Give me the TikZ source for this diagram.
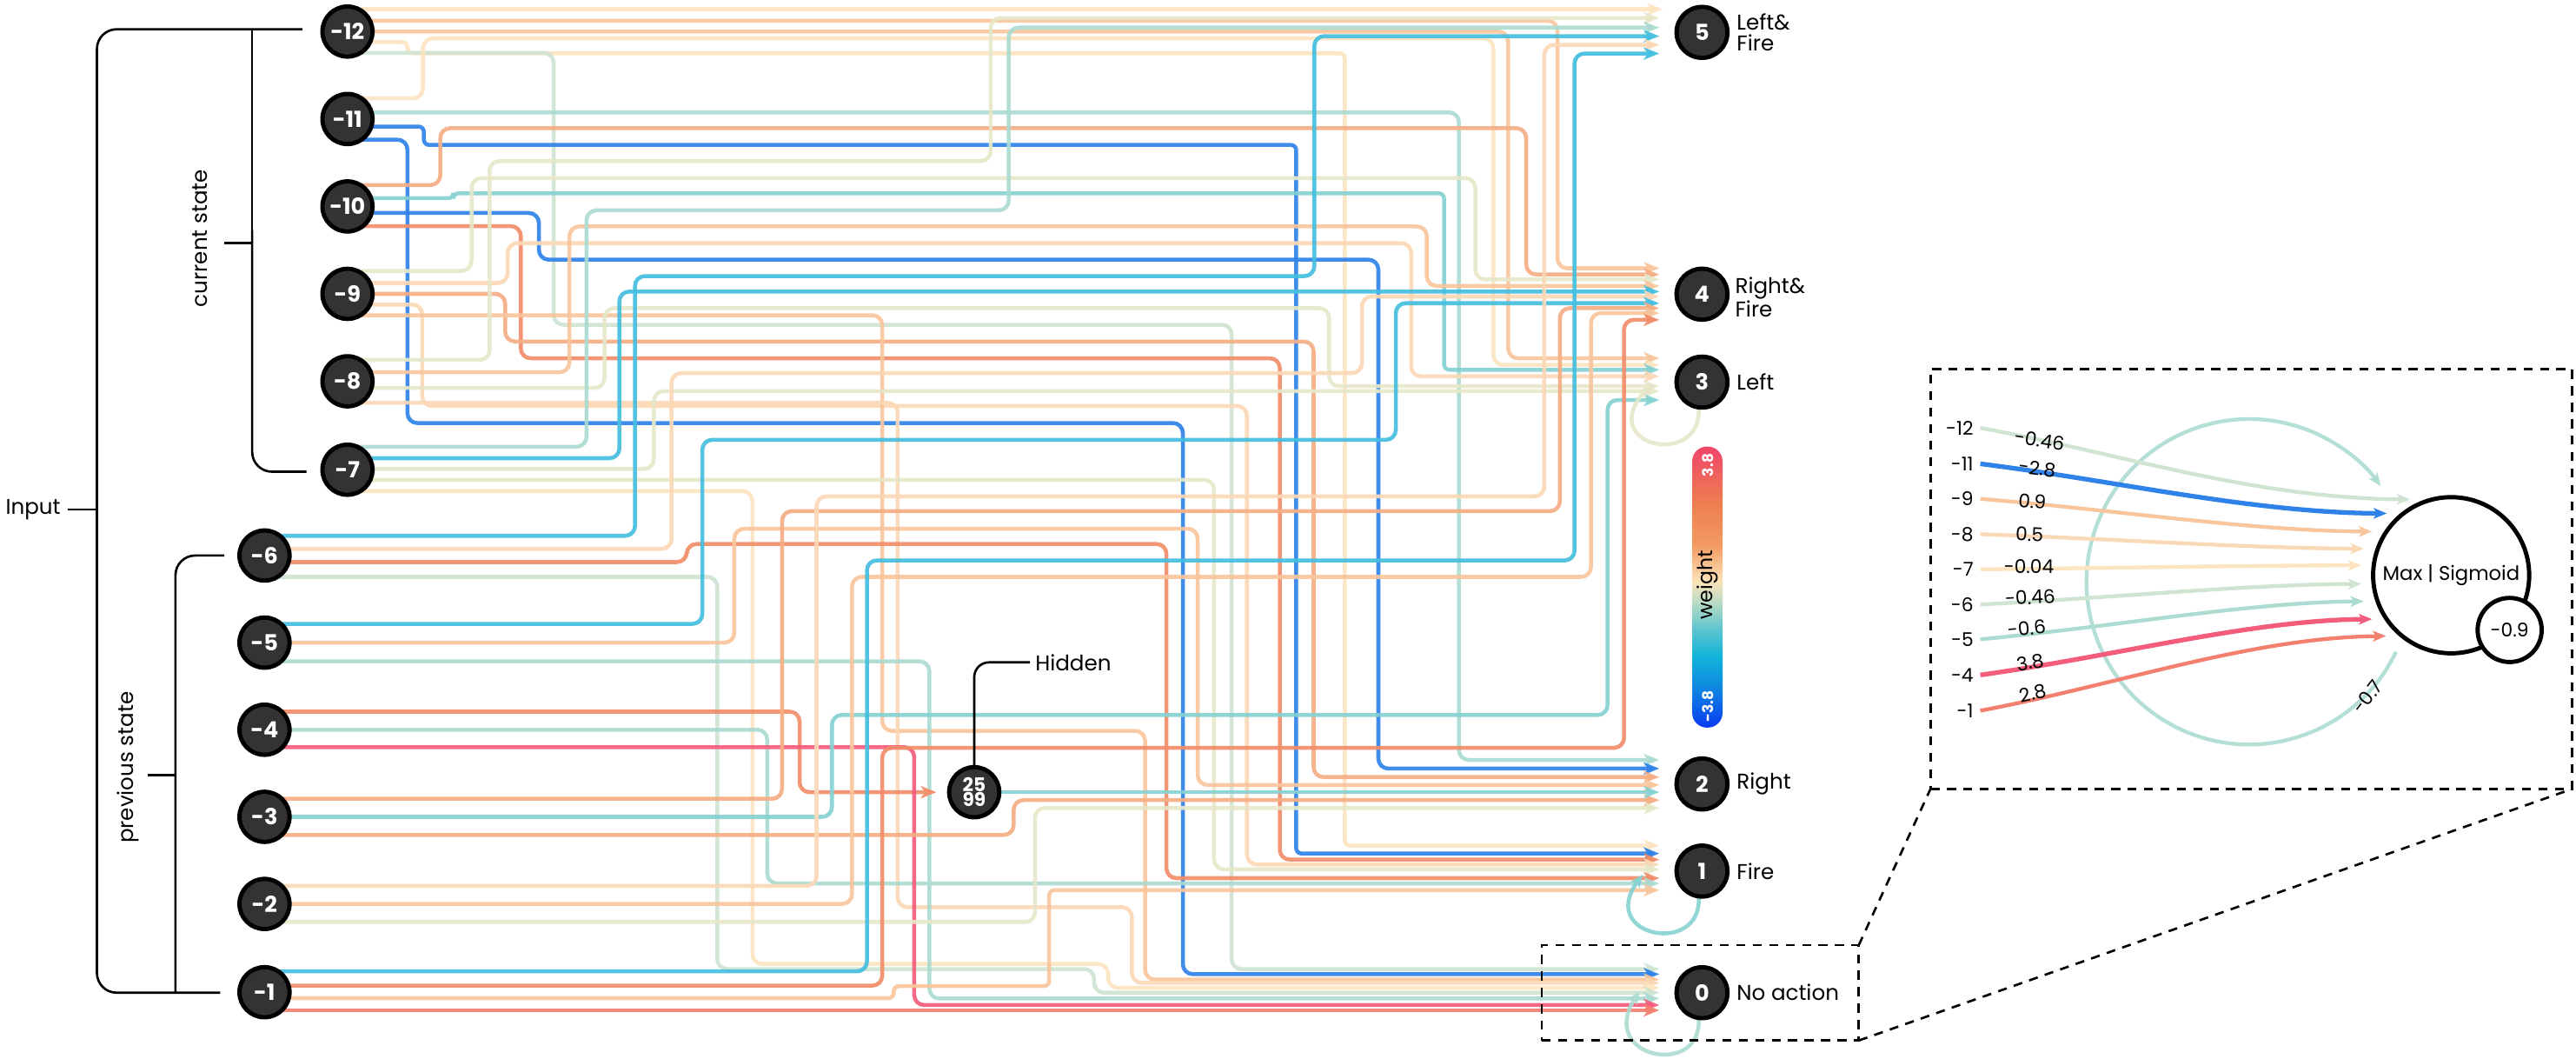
\documentclass[tikz,border=0pt]{standalone}
\usepackage{fontspec}
\setmainfont{Poppins}
\usetikzlibrary{arrows.meta,calc,backgrounds}

\definecolor{nfill}{HTML}{333333}
\definecolor{cCream}{HTML}{FCE4C0}
\definecolor{cCreamS}{HTML}{E6E7C9}
\definecolor{cSage}{HTML}{CFE4D2}
\definecolor{cTealS}{HTML}{ABDBD1}
\definecolor{cTeal}{HTML}{86D1D2}
\definecolor{cCyan}{HTML}{45BEE0}
\definecolor{cBlue}{HTML}{2F82E8}
\definecolor{cPeachL}{HTML}{FBD8B5}
\definecolor{cPeach}{HTML}{F8C59C}
\definecolor{cPeachD}{HTML}{F5AE84}
\definecolor{cSalmon}{HTML}{F18D69}
\definecolor{cSalmonR}{HTML}{F3806E}
\definecolor{cPink}{HTML}{F45C7C}
\definecolor{wbA}{HTML}{0A3AF2}
\definecolor{wbB}{HTML}{0F8BE0}
\definecolor{wbC}{HTML}{10B3DA}
\definecolor{wbD}{HTML}{5CC5CF}
\definecolor{wbE}{HTML}{BDDCC5}
\definecolor{wbF}{HTML}{FCE3B8}
\definecolor{wbG}{HTML}{F39A62}
\definecolor{wbH}{HTML}{EE7E50}
\definecolor{wbI}{HTML}{F0456A}

\pgfdeclareverticalshading{wbarshade}{100bp}{color(0bp)=(wbA); color(25bp)=(wbA); color(32.5bp)=(wbB); color(37.5bp)=(wbC); color(42.5bp)=(wbD); color(47.5bp)=(wbE); color(51bp)=(wbF); color(57.5bp)=(wbG); color(65bp)=(wbH); color(75bp)=(wbI); color(100bp)=(wbI)}

\begin{document}
\begin{tikzpicture}[x=1pt,y=-1pt,
  wire/.style={line width=2.4pt, rounded corners=6pt, draw opacity=0.92, -{Stealth[length=9.5pt,width=7.5pt,inset=2.5pt]}},
  jwire/.style={wire, rounded corners=3.2pt},
  loopw/.style={line width=2.4pt, draw opacity=0.9, -{Stealth[length=8pt,width=6.5pt,inset=2pt]}},
  inode/.style={circle, minimum size=30.5pt, inner sep=0pt, outer sep=0pt, fill=nfill, draw=black, line width=2.6pt, text=white, font=\bfseries\fontsize{13.5}{14}\selectfont},
  onode/.style={inode, minimum size=31pt},
  olab/.style={anchor=west, align=left, inner sep=0pt, font=\fontsize{13}{12.5}\selectfont},
  brk/.style={line width=1.4pt, rounded corners=12pt},
  lbl/.style={inner sep=0pt, font=\fontsize{13}{15}\selectfont},
  dbox/.style={draw, dash pattern=on 5.5pt off 4.5pt, line width=1.4pt, inner sep=0pt, outer sep=0pt},
  dline/.style={dash pattern=on 5.5pt off 4.5pt, line width=1.4pt},
  ilab/.style={anchor=east, inner sep=0pt, font=\fontsize{11.5}{12}\selectfont},
  wlab/.style={inner sep=0pt, font=\fontsize{11.5}{12}\selectfont},
  iw/.style={line width=2.3pt, -{Stealth[length=8pt,width=6.5pt,inset=2pt]}}
]
\useasboundingbox (0,0) rectangle (1568,644);

% ---------- input nodes ----------
\node[inode] (i12) at (211.5,19.2) {-12};
\node[inode] (i11) at (211.5,72.4) {-11};
\node[inode] (i10) at (211.5,125.6) {-10};
\node[inode] (i9) at (211.5,178.8) {-9};
\node[inode] (i8) at (211.5,232) {-8};
\node[inode] (i7) at (211.5,285.8) {-7};
\node[inode] (i6) at (161,338) {-6};
\node[inode] (i5) at (161,391) {-5};
\node[inode] (i4) at (161,444) {-4};
\node[inode] (i3) at (161,497) {-3};
\node[inode] (i2) at (161,550) {-2};
\node[inode] (i1) at (161,603.7) {-1};
% ---------- hidden ----------
\node[inode, align=center, font=\bfseries\fontsize{11.5}{8.8}\selectfont] (h) at (593,482) {25\\99};
% ---------- output nodes ----------
\node[onode] (o5) at (1036,19.7) {5};
\node[onode] (o4) at (1036,179) {4};
\node[onode] (o3) at (1036,232.5) {3};
\node[onode] (o2) at (1036,477) {2};
\node[onode] (o1) at (1036,530) {1};
\node[onode] (o0) at (1036,604) {0};

\node[olab] (t5) at (1057,19.7) {Left\&\\Fire};
\node[olab] (t4) at (1056,180.6) {Right\&\\Fire};
\node[olab] (t3) at (1057,232.5) {Left};
\node[olab] (t2) at (1057,477) {Right};
\node[olab] (t1) at (1057,530) {Fire};
\node[olab] (t0) at (1057,604) {No action};

% ---------- wires ----------
\begin{pgfonlayer}{background}
\draw[wire,draw=cCream] ($(i12)+(0,-13.6)$) -- ($(o5)+(-24,-14.1)$);
\draw[wire,draw=cPeach] ($(i12)+(0,-6.6)$) -| (948,163.2) -- ($(o4)+(-26,-15.8)$);
\draw[wire,draw=cPeach] ($(i12)+(0,0)$) -| (918,218) -- ($(o3)+(-26,-14.5)$);
\draw[jwire,draw=cCream] ($(i12)+(0,6.4)$) -| (248,32.4) -| (818.6,514.5) -- ($(o1)+(-26,-15.5)$);
\draw[wire,draw=cSage] ($(i12)+(0,13)$) -| (337,197.6) -| (749.7,589.6) -- ($(o0)+(-26,-14.4)$);

\draw[wire,draw=cCream] ($(i11)+(0,-12.6)$) -| (257.5,23.3) -| (909,222) -- ($(o3)+(-26,-10.5)$);
\draw[wire,draw=cTealS] ($(i11)+(0,-4)$) -| (888,462.4) -- ($(o2)+(-26,-14.6)$);
\draw[jwire,draw=cBlue] ($(i11)+(0,4.6)$) -| (258,88.2) -| (789,519.3) -- ($(o1)+(-26,-10.7)$);
\draw[wire,draw=cBlue] ($(i11)+(0,12.6)$) -| (248,257.4) -| (720,592.7) -- ($(o0)+(-26,-11.3)$);

\draw[wire,draw=cPeachD] ($(i10)+(0,-13)$) -| (268,78) -| (929,167) -- ($(o4)+(-26,-12)$);
\draw[jwire,draw=cTeal] ($(i10)+(0,-5)$) -| (276,117.6) -| (879,225) -- ($(o3)+(-26,-7.5)$);
\draw[wire,draw=cBlue] ($(i10)+(0,4)$) -| (328,158) -| (839,467.6) -- ($(o2)+(-26,-9.4)$);
\draw[wire,draw=cSalmon] ($(i10)+(0,12)$) -| (317,218) -| (779,523) -- ($(o1)+(-26,-7)$);

\draw[wire,draw=cCreamS] ($(i9)+(0,-14)$) -| (287,108.4) -| (898,170) -- ($(o4)+(-26,-9)$);
\draw[wire,draw=cPeachL] ($(i9)+(0,-6.6)$) -| (309,148) -| (859,229) -- ($(o3)+(-26,-3.5)$);
\draw[wire,draw=cPeachD] ($(i9)+(0,0)$) -| (307.5,207.8) -| (799.6,472.8) -- ($(o2)+(-26,-4.2)$);
\draw[wire,draw=cPeachL] ($(i9)+(0,6.5)$) -| (257,247) -| (759,526) -- ($(o1)+(-26,-4)$);
\draw[wire,draw=cPeach] ($(i9)+(0,13)$) -| (537,444.7) -| (697,596) -- ($(o0)+(-26,-8)$);

\draw[wire,draw=cCreamS] ($(i8)+(0,-13)$) -| (298,98) -| (603,11) -- ($(o5)+(-26,-8.7)$);
\draw[wire,draw=cPeach] ($(i8)+(0,-5.5)$) -| (346.6,137.8) -| (868.5,174) -- ($(o4)+(-26,-5)$);
\draw[wire,draw=cCreamS] ($(i8)+(0,4)$) -| (368,187.5) -| (809,235) -- ($(o3)+(-26,2.5)$);
\draw[wire,draw=cPeachL] ($(i8)+(0,13)$) -| (546.4,552) -| (689,598) -- ($(o0)+(-26,-6)$);

\draw[wire,draw=cTealS] ($(i7)+(0,-14)$) -| (357,128) -| (614,16.8) -- ($(o5)+(-26,-2.9)$);
\draw[wire,draw=cCyan] ($(i7)+(0,-7)$) -| (377,177.4) -- ($(o4)+(-26,-1.6)$);
\draw[wire,draw=cCreamS] ($(i7)+(0,-0.5)$) -| (398,238) -- ($(o3)+(-26,5.5)$);
\draw[wire,draw=cCreamS] ($(i7)+(0,6.2)$) -| (739,529) -- ($(o1)+(-26,-1)$);
\draw[wire,draw=cCream] ($(i7)+(0,13)$) -| (458,586.5) -| (674.5,601) -- ($(o0)+(-26,-3)$);

\draw[wire,draw=cCyan] ($(i6)+(0,-12)$) -| (386.5,168) -| (800,22) -- ($(o5)+(-26,2.3)$);
\draw[wire,draw=cPeachL] ($(i6)+(0,-4)$) -| (408.7,227) -| (829,180.4) -- ($(o4)+(-26,1.4)$);
\draw[wire,draw=cSalmon] ($(i6)+(0,4)$) -| (418,331) -| (710,534.3) -- ($(o1)+(-26,4.3)$);
\draw[wire,draw=cSage] ($(i6)+(0,13)$) -| (436.6,589.6) -| (666,604) -- ($(o0)+(-26,0)$);

\draw[wire,draw=cCyan] ($(i5)+(0,-11.4)$) -| (427.5,267.6) -| (849.6,184.5) -- ($(o4)+(-26,5.5)$);
\draw[wire,draw=cPeach] ($(i5)+(0,0)$) -| (447,321.7) -| (729,477.6) -- ($(o2)+(-26,0.6)$);
\draw[wire,draw=cTealS] ($(i5)+(0,11.4)$) -| (565.7,607.5) -- ($(o0)+(-26,3.5)$);

\draw[wire,draw=cSalmon] ($(i4)+(0,-11)$) -| (486.7,482) -- ($(h)+(-23,0)$);
\draw[wire,draw=cTealS] ($(i4)+(0,0)$) -| (467,537.5) -- ($(o1)+(-26,7.5)$);
\draw[wire,draw=cPink] ($(i4)+(0,10.6)$) -| (556.5,611.5) -- ($(o0)+(-26,7.5)$);

\draw[wire,draw=cPeachD] ($(i3)+(0,-11)$) -| (476,311) -| (949.5,187.5) -- ($(o4)+(-26,8.5)$);
\draw[wire,draw=cTeal] ($(i3)+(0,0)$) -| (506.4,435) -| (978.5,243.4) -- ($(o3)+(-26,10.9)$);
\draw[wire,draw=cPeachD] ($(i3)+(0,11)$) -| (617,486.8) -- ($(o2)+(-26,9.8)$);

\draw[wire,draw=cPeachL] ($(i2)+(0,-11)$) -| (497,302) -| (940,27.3) -- ($(o5)+(-26,7.6)$);
\draw[wire,draw=cPeach] ($(i2)+(0,0)$) -| (518.6,351) -| (968.4,190.5) -- ($(o4)+(-26,11.5)$);
\draw[wire,draw=cCreamS] ($(i2)+(0,11)$) -| (630,491.6) -- ($(o2)+(-26,14.6)$);

\draw[wire,draw=cCyan] ($(i1)+(0,-12.7)$) -| (527.7,341) -| (958.4,32.6) -- ($(o5)+(-26,12.9)$);
\draw[wire,draw=cSalmon] ($(i1)+(0,-4)$) -| (537,455) -| (988.5,194.6) -- ($(o4)+(-26,15.6)$);
\draw[jwire,draw=cPeach] ($(i1)+(0,3.6)$) -| (544,600) -| (638.6,541.6) -- ($(o1)+(-26,11.6)$);
\draw[wire,draw=cSalmonR] ($(i1)+(0,11)$) -- ($(o0)+(-26,10.7)$);

\draw[wire,draw=cTeal] (h) -- ($(o2)+(-26,5)$);

% self loops
\draw[loopw,draw=cCreamS] ($(o3)+(-2,16)$) .. controls ($(o3)+(0,52)$) and ($(o3)+(-64,40)$) .. ($(o3)+(-32,2)$);
\draw[loopw,draw=cTeal] ($(o1)+(-2,16)$) .. controls ($(o1)+(0,52)$) and ($(o1)+(-64,40)$) .. ($(o1)+(-36,2)$);
\draw[loopw,draw=cTealS] ($(o0)+(-2,16)$) .. controls ($(o0)+(0,52)$) and ($(o0)+(-64,40)$) .. ($(o0)+(-38,-1)$);
\end{pgfonlayer}

% ---------- brackets ----------
\draw[brk] (184,17.8) -- (59,17.8) -- (59,604) -- (134,604);
\draw[line width=1.4pt] (153.5,17.8) -- (153.5,150);
\draw[brk] (153.5,140) -- (153.5,287) -- (186.6,287);
\draw[line width=1.4pt] (136.5,148) -- (153.5,148);
\draw[brk] (136.5,338) -- (106.8,338) -- (106.8,604);
\draw[line width=1.4pt] (89.8,471.5) -- (106.8,471.5);
\node[lbl, anchor=east] (inp) at (37,310) {Input};
\draw[line width=1.4pt] (inp.east) ++(4,0) -- (59,310);
\node[lbl, rotate=90] (cs) at (121.6,145) {current state};
\node[lbl, rotate=90] (ps) at (78,467) {previous state};

% hidden label
\node[lbl, anchor=west] (hl) at (630,403) {Hidden};
\draw[line width=1.4pt, rounded corners=9pt] (h.north) |- ($(hl.west)+(-3,0)$);

% ---------- weight bar ----------
\node[rectangle, rounded corners=9pt, minimum width=18.5pt, minimum height=171pt, inner sep=0pt, shading=wbarshade] (wb) at (1039.25,357.2) {};
\node[rotate=90, text=white, inner sep=0pt, font=\bfseries\fontsize{9}{9}\selectfont] (wmax) at (1039.5,283) {3.8};
\node[rotate=90, text=white, inner sep=0pt, font=\bfseries\fontsize{9}{9}\selectfont] (wmin) at (1039.5,430) {-3.8};
\node[rotate=90, inner sep=0pt, font=\fontsize{12.5}{13}\selectfont] (wtx) at (1039.5,356) {weight};

% ---------- zoom boxes ----------
\node[dbox, minimum width=193pt, minimum height=58pt] (zb) at (1034.9,604.1) {};
\node[dbox, minimum width=390.5pt, minimum height=255.5pt] (ib) at (1370.3,352.3) {};
\draw[dline] (zb.north east) -- (ib.south west);
\draw[dline] (zb.south east) -- (ib.south east);

% ---------- inset ----------
\node[circle, draw, line width=2.6pt, minimum size=95pt, inner sep=0pt, fill=white, font=\fontsize{12}{12}\selectfont] (m) at (1492,350) {Max | Sigmoid};
\node[circle, draw, line width=2.6pt, minimum size=39pt, inner sep=0pt, fill=white, font=\fontsize{11.5}{12}\selectfont] (sg) at (1527.6,383.3) {-0.9};

\node[ilab] (l12) at (1201.4,260.4) {-12};
\node[ilab] (l11) at (1201.4,282.2) {-11};
\node[ilab] (l9) at (1201.4,303.5) {-9};
\node[ilab] (l8) at (1201.4,325) {-8};
\node[ilab] (l7) at (1201.4,346.4) {-7};
\node[ilab] (l6) at (1201.4,367.8) {-6};
\node[ilab] (l5) at (1201.4,389) {-5};
\node[ilab] (l4) at (1201.4,410.7) {-4};
\node[ilab] (l1) at (1201.4,432.4) {-1};

\begin{pgfonlayer}{background}
\draw[iw,draw=cTealS,draw opacity=0.9] ($(m)+(-33.6,46.6)$) arc[start angle=25.5, end angle=324, radius=99];
\end{pgfonlayer}
\draw[iw,draw=cSage] ($(l12.east)+(4,0)$) .. controls (1290,275.6) and (1370,303) .. ($(m)+(-25,-46.1)$);
\draw[iw,draw=cBlue,line width=2.8pt] ($(l11.east)+(4,0)$) .. controls (1290,292.8) and (1370,311.8) .. ($(m)+(-39.2,-37.6)$);
\draw[iw,draw=cPeach] ($(l9.east)+(4,0)$) .. controls (1290,310.5) and (1370,323) .. ($(m)+(-48.2,-26.6)$);
\draw[iw,draw=cPeachL] ($(l8.east)+(4,0)$) .. controls (1290,328.1) and (1370,333.6) .. ($(m)+(-53.3,-16.2)$);
\draw[iw,draw=cCream] ($(l7.east)+(4,0)$) .. controls (1290,345.6) and (1370,344) .. ($(m)+(-54.6,-6)$);
\draw[iw,draw=cSage] ($(l6.east)+(4,0)$) .. controls (1290,363.4) and (1370,355.5) .. ($(m)+(-54.6,5.3)$);
\draw[iw,draw=cTealS] ($(l5.east)+(4,0)$) .. controls (1290,380.9) and (1370,366.4) .. ($(m)+(-53.3,15.9)$);
\draw[iw,draw=cPink,line width=2.8pt] ($(l4.east)+(4,0)$) .. controls (1290,398.8) and (1370,377.4) .. ($(m)+(-48.2,26.7)$);
\draw[iw,draw=cSalmonR] ($(l1.east)+(4,0)$) .. controls (1290,416.5) and (1370,387.9) .. ($(m)+(-39.7,37)$);

\node[wlab, rotate=-9] (w12) at (1241.4,268) {-0.46};
\node[wlab, rotate=-8] (w11) at (1240,285) {-2.8};
\node[wlab, rotate=-5] (w9) at (1237,305) {0.9};
\node[wlab, rotate=-3] (w8) at (1235.4,325) {0.5};
\node[wlab] (w7) at (1235,344.5) {-0.04};
\node[wlab, rotate=3] (w6) at (1235.7,363.4) {-0.46};
\node[wlab, rotate=5] (w5) at (1233.6,382.3) {-0.6};
\node[wlab, rotate=10] (w4) at (1235.7,403) {3.8};
\node[wlab, rotate=12] (w1) at (1237.5,422) {2.8};
\node[wlab, rotate=52] (wl) at (1441,424) {-0.7};
\end{tikzpicture}
\end{document}
